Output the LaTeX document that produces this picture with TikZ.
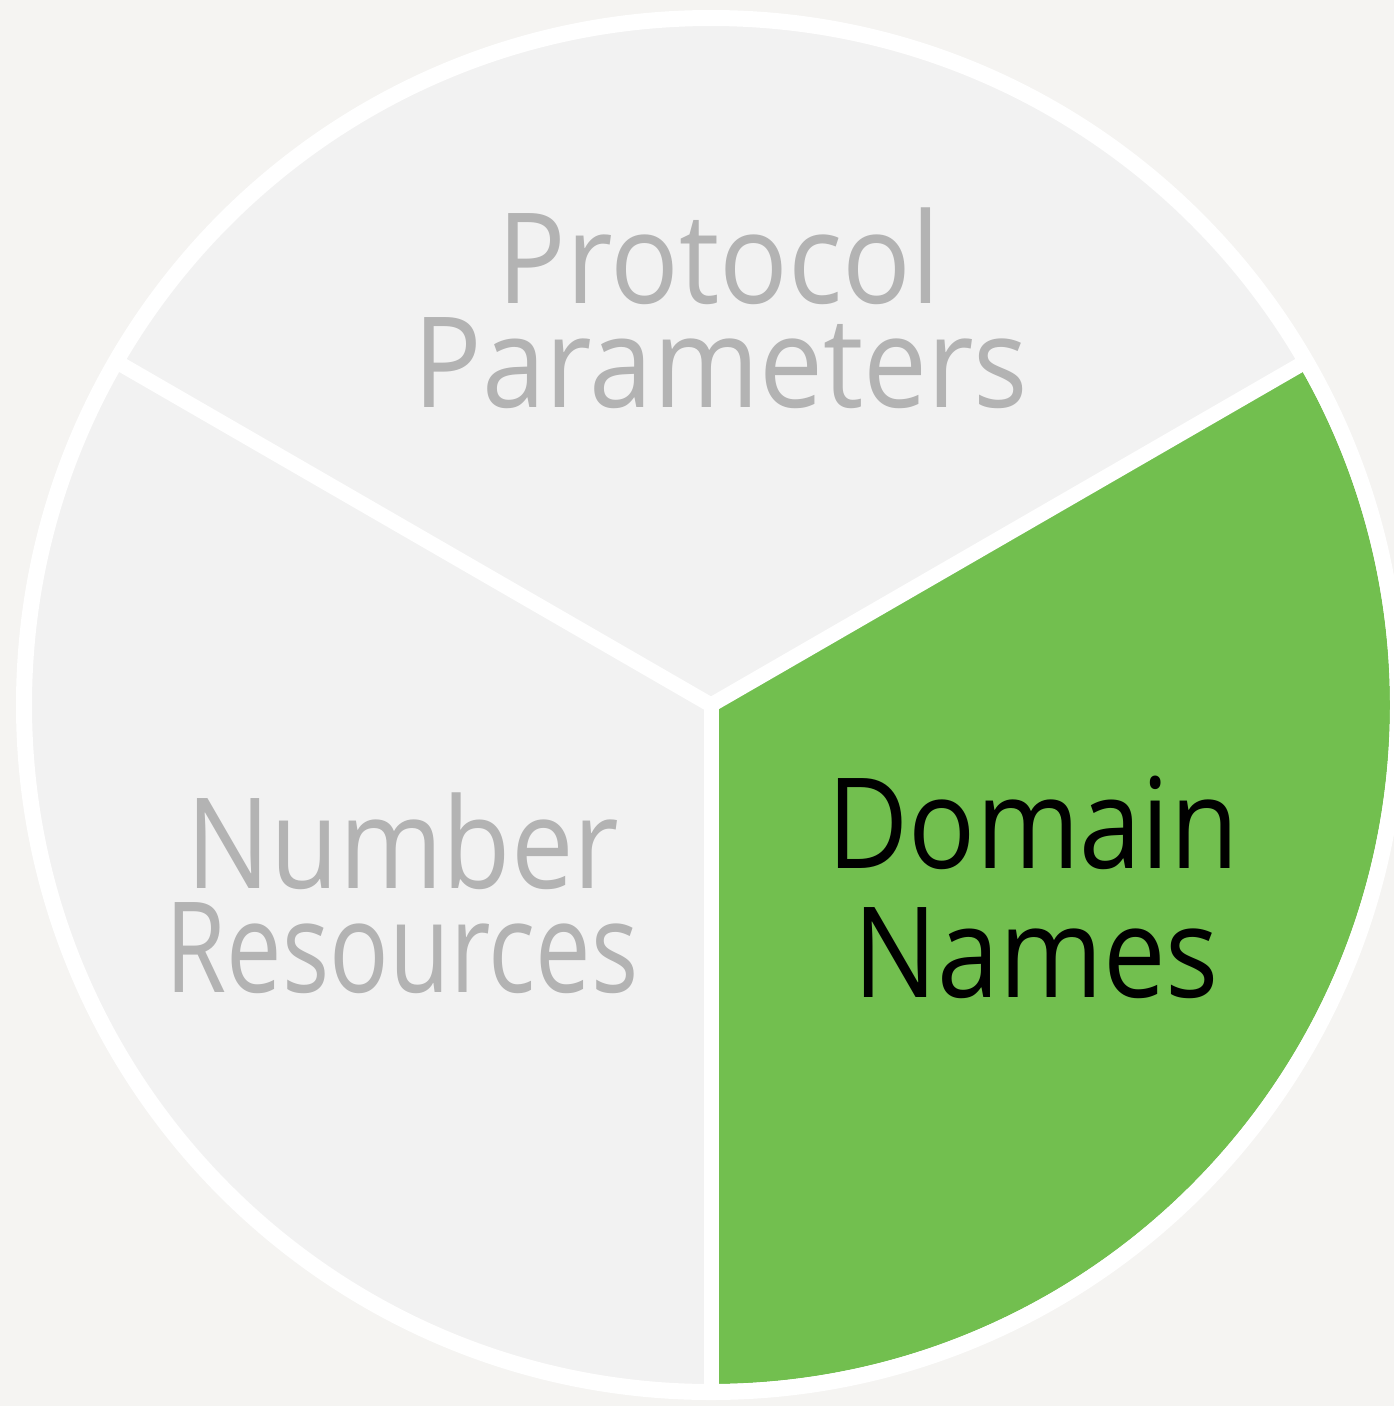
\documentclass[tikz,border=0pt]{standalone}
\usepackage{fontspec}
\usetikzlibrary{calc}
\newfontfamily\labelfont[FakeStretch=0.885]{Open Sans}
\newfontfamily\widelabelfont[FakeStretch=0.905]{Open Sans}
\newfontfamily\narrowlabelfont[FakeStretch=0.785]{Open Sans}
\definecolor{pagebg}{HTML}{F5F4F2}
\definecolor{slicegray}{HTML}{F2F2F2}
\definecolor{slicegreen}{HTML}{72BF4F}
\definecolor{labelgray}{HTML}{B3B3B3}
\tikzset{
  slice/.style={fill=slicegray},
  divider/.style={draw=white, line width=15pt},
  rim/.style={draw=white, line width=16pt},
  pielabel/.style={anchor=base, inner sep=0pt, font=\labelfont\fontsize{126}{126}\selectfont},
  widelabel/.style={pielabel, font=\widelabelfont\fontsize{126}{126}\selectfont},
  narrowlabel/.style={pielabel, font=\narrowlabelfont\fontsize{126}{126}\selectfont},
  firstline/.style={text depth=0pt},
}
\begin{document}
\begin{tikzpicture}[x=1pt, y=-1pt]
  \useasboundingbox (0,0) rectangle (1394,1406);
  \clip (0,0) rectangle (1394,1406);
  \fill[pagebg] (0,0) rectangle (1394,1406);
  \coordinate (C) at (711,705);
  % three equal slices, the lower right one highlighted
  \fill[slice] (C) -- ++(30:679pt) arc[start angle=30, end angle=150, radius=679pt] -- cycle;
  \fill[slice] (C) -- ++(150:679pt) arc[start angle=150, end angle=270, radius=679pt] -- cycle;
  \fill[slicegreen] (C) -- ++(-90:679pt) arc[start angle=-90, end angle=30, radius=679pt] -- cycle;
  % white rim and dividers
  \coordinate (E1) at ($(C)+(30:687pt)$);
  \coordinate (E2) at ($(C)+(150:687pt)$);
  \coordinate (E3) at ($(C)+(270:687pt)$);
  \draw[divider] (C) -- (E1);
  \draw[divider] (C) -- (E2);
  \draw[divider] (C) -- (E3);
  \draw[rim] (C) circle[radius=687pt];
  % labels
  \node[widelabel, firstline, text=labelgray] (proto) at (719,303) {Protocol};
  \node[widelabel, text=labelgray] (param) at (721,407) {Parameters};
  \node[pielabel, firstline, text=labelgray] (numb) at (403,888) {Number};
  \node[narrowlabel, text=labelgray] (reso) at (402,992) {Resources};
  \node[pielabel, firstline, text=black] (dom) at (1033,868) {Domain};
  \node[pielabel, text=black] (names) at (1036,997) {Names};
\end{tikzpicture}
\end{document}
